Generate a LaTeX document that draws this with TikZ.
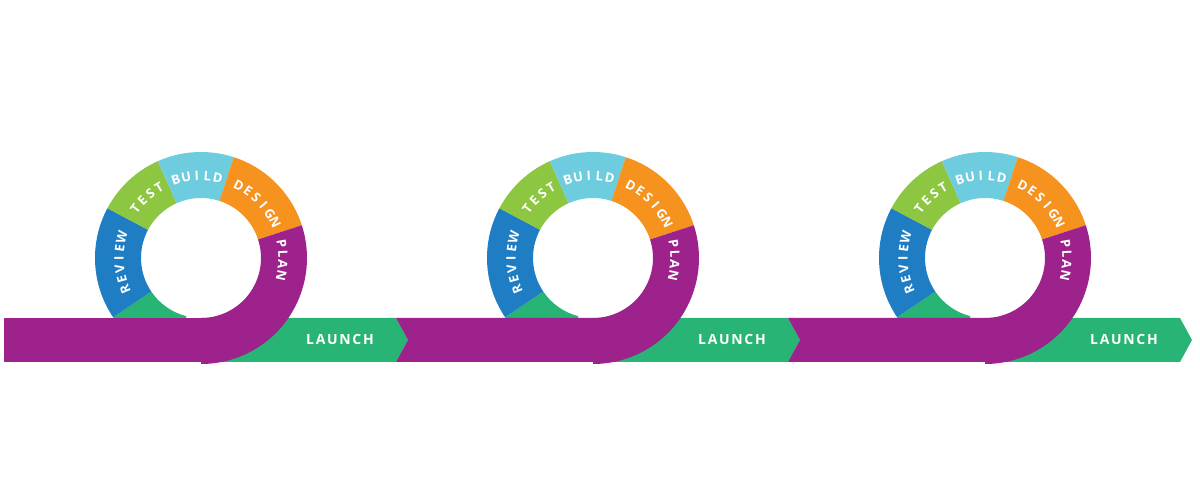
\documentclass[tikz,border=0pt]{standalone}
\usepackage{fontspec}
\setmainfont{Open Sans}
\usetikzlibrary{calc}

\definecolor{cycblue}{HTML}{1F7DC3}
\definecolor{cycgreen}{HTML}{8DC641}
\definecolor{cyccyan}{HTML}{6DCCDD}
\definecolor{cycorange}{HTML}{F6921E}
\definecolor{cycpurple}{HTML}{9E228B}
\definecolor{cyclaunch}{HTML}{27B474}

% annulus sector: centre, start angle, end angle
\newcommand{\ringpart}[4]{%
  \fill[#4] ($(#1)+(#2:106)$) arc[start angle=#2,end angle=#3,radius=106]
    -- ($(#1)+(#3:60)$) arc[start angle=#3,end angle=#2,radius=60] -- cycle;}
% word on the ring: centre, mid angle, number of letters, letters
\newcommand{\ringword}[4]{%
  \foreach \l [count=\i] in {#4} {
    \pgfmathsetmacro{\ang}{#2+(#3-1)/2*7.4-(\i-1)*7.4}
    \node[ringtext,rotate=\ang-90] at ($(#1)+(\ang:82)$) {\l};
  }}

\begin{document}
\begin{tikzpicture}[x=1pt,y=1pt,
  ringtext/.style={text=white,font=\fontsize{13}{13}\selectfont\bfseries,inner sep=0pt,anchor=center},
  launchtext/.style={text=white,font=\fontsize{14}{14}\selectfont\bfseries\addfontfeature{LetterSpace=12}}]
\useasboundingbox (0,0) rectangle (1200,500);

\foreach \o [count=\k] in {0,392,784} {
  \coordinate (c\k) at (201+\o,242);
  % ring segments
  \ringpart{c\k}{214}{256}{cyclaunch}
  \ringpart{c\k}{152}{214}{cycblue}
  \ringpart{c\k}{114}{152}{cycgreen}
  \ringpart{c\k}{72}{114}{cyccyan}
  \ringpart{c\k}{18}{72}{cycorange}
  % purple band
  \ifnum\k=1
    \fill[cycpurple] (4,182) rectangle (201,138);
  \else
    \fill[cycpurple] (\o+4,182) -- (\o+16,160) -- (\o+4,138) -- (\o+201,138) -- (\o+201,182) -- cycle;
  \fi
  % launch arrow
  \fill[cyclaunch] (\o+201,182) -- (\o+396,182) -- (\o+408,160) -- (\o+396,138) -- (\o+201,138) -- cycle;
  \node[launchtext] (launch\k) at (\o+340,160) {LAUNCH};
  % plan arc over the arrow
  \ringpart{c\k}{-90}{18}{cycpurple}
  % labels
  \ringword{c\k}{184}{6}{R,E,V,I,E,W}
  \ringword{c\k}{132}{4}{T,E,S,T}
  \ringword{c\k}{93}{5}{B,U,I,L,D}
  \ringword{c\k}{44}{6}{D,E,S,I,G,N}
  \ringword{c\k}{-1}{4}{P,L,A,N}
}
\end{tikzpicture}
\end{document}
